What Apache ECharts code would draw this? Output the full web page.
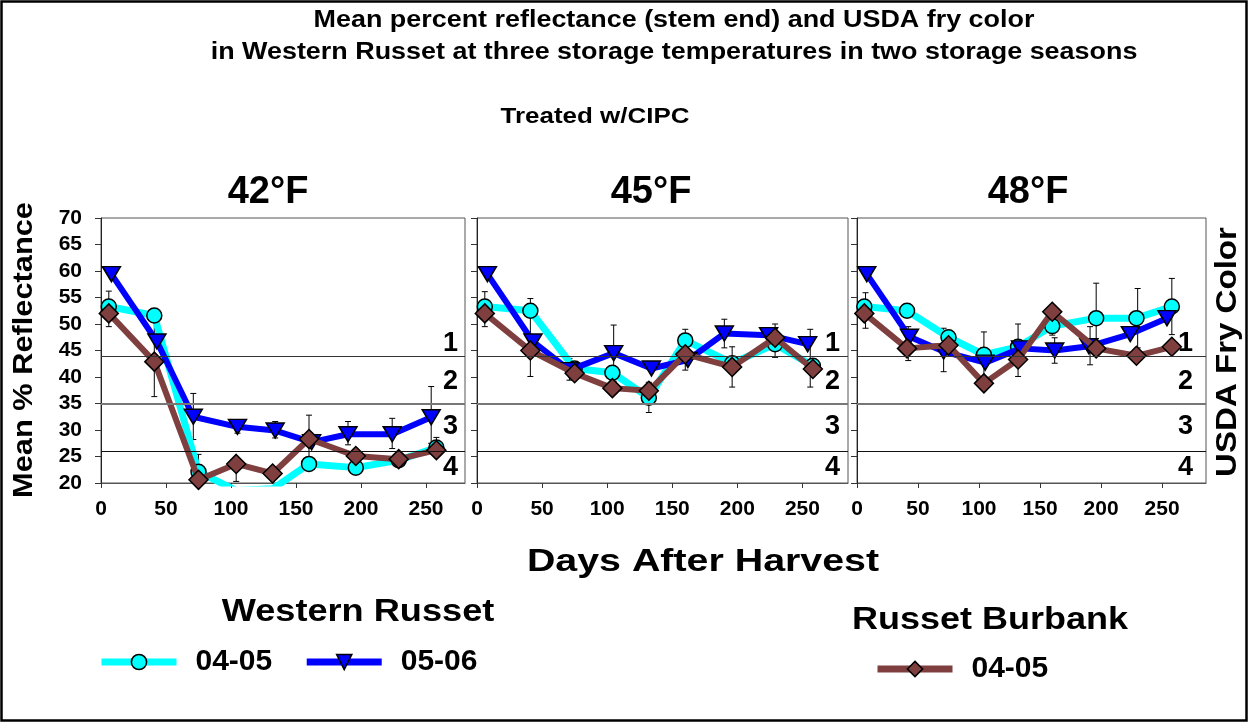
<!DOCTYPE html>
<html><head><meta charset="utf-8">
<script src="https://cdn.jsdelivr.net/npm/echarts@6/dist/echarts.min.js"></script>
<style>html,body{margin:0;padding:0;background:#fff}#c{width:1249px;height:723px}</style>
</head><body><div id="c"></div>
<script>
// ---- data ----
const panelTitles = ['42°F', '45°F', '48°F'];
const days0405 = [6, 41, 75, 104, 132, 160, 196, 229, 258];
const days0506 = [8, 43, 71, 105, 134, 162, 190, 224, 254];
const wr0405 = [
  [53.3, 51.6, 22.1, 18.6, 18.9, 23.6, 22.9, 24.3, 26.7],
  [53.3, 52.5, 41.6, 40.8, 36.1, 46.9, 42.6, 46.2, 42.1],
  [53.3, 52.5, 47.5, 44.2, 45.7, 49.6, 51.1, 51.1, 53.3]
];
const wr0506 = [
  [59.4, 46.7, 32.5, 30.6, 29.9, 27.7, 29.2, 29.2, 32.4],
  [59.4, 46.7, 41.3, 44.5, 41.6, 43.2, 48.2, 47.9, 46.2],
  [59.4, 47.6, 44.8, 42.7, 45.4, 45.0, 45.8, 48.1, 51.1]
];
const rb0405 = [
  [52.0, 42.9, 20.6, 23.6, 21.8, 28.3, 25.1, 24.5, 26.2],
  [52.0, 45.0, 40.7, 37.9, 37.4, 44.3, 41.9, 47.4, 41.5],
  [52.0, 45.4, 46.0, 38.8, 43.3, 52.3, 45.4, 44.0, 45.7]
];
// error bars: [day, low, high]
const errBars = [
  [[6, 49.5, 56.2], [41, 36.3, 51.2], [71, 28.2, 36.9], [75, 20, 25.4], [105, 29.4, 31.9], [104, 20.3, 23.6],
   [134, 28.5, 31.6], [160, 24.5, 32.8], [190, 27.2, 31.6], [224, 26.5, 32.2], [254, 27.5, 38.2], [258, 25, 28.6]],
  [[6, 49.5, 56.1], [41, 40.1, 54.8], [71, 39.4, 43.5], [105, 39.2, 49.8], [132, 33.3, 39], [160, 41.3, 49],
   [190, 45.5, 50.9], [196, 38.1, 45.7], [229, 43.7, 50], [256, 38.1, 49]],
  [[7, 49.2, 55.9], [42, 43.1, 49.5], [71, 41, 49.2], [104, 40, 48.5], [132, 40.1, 50], [160, 47.9, 51.3],
   [162, 42.6, 47.4], [191, 42.3, 49.5], [196, 44.5, 57.7], [230, 45.5, 56.7], [258, 48, 58.6]]
];
const fryBounds = [44, 35, 26];
const fryLabels = ['1', '2', '3', '4'];
const fryLabelValues = [46.3, 39.1, 30.6, 23.0];
const yMin = 20, yMax = 70, yStep = 5;
const xMaxes = [280, 285, 286];
const xStep = 50;
const seriesNames = ['WR 04-05', 'WR 05-06', 'RB 04-05'];
const legendText = {'WR 04-05': '04-05', 'WR 05-06': '05-06', 'RB 04-05': '04-05'};

// ---- layout / style ----
const FONT = '"Liberation Sans", Arial, sans-serif';
const grids = [
  {left: 101, top: 218, width: 364, height: 265},
  {left: 477, top: 218, width: 371, height: 265},
  {left: 857, top: 218, width: 349, height: 265}
];
const fryDist = [7, 8, 13];
const COL = {cyan: '#00FFFF', blue: '#0000FF', brown: '#7F3F3F'};

const zip = (xs, ys) => xs.map((x, i) => [x, ys[i]]);

const xAxis = [], yAxis = [], series = [];
grids.forEach((g, i) => {
  xAxis.push({
    type: 'value', gridIndex: i, min: 0, max: xMaxes[i], interval: xStep,
    axisLine: {lineStyle: {color: '#555', width: 1}},
    axisTick: {show: true, inside: false, length: 5, lineStyle: {color: '#333'}},
    axisLabel: {show: true, showMaxLabel: false, margin: 16, color: '#000', fontSize: 21, fontWeight: 'bold', fontFamily: FONT},
    splitLine: {show: false}
  });
  yAxis.push({
    type: 'value', gridIndex: i, min: yMin, max: yMax, interval: yStep,
    axisLine: {show: true, lineStyle: {color: '#222', width: 1}},
    axisTick: {show: true, inside: false, length: 6, lineStyle: {color: '#333'}},
    axisLabel: {show: i === 0, margin: 19, color: '#000', fontSize: 21, fontWeight: 'bold', fontFamily: FONT},
    splitLine: {show: false}
  });
  series.push({
    type: 'custom', xAxisIndex: i, yAxisIndex: i, clip: true, silent: true, z: 1,
    data: errBars[i],
    encode: {x: 0, y: [1, 2]},
    renderItem: (params, api) => {
      const x = api.value(0);
      const top = api.coord([x, api.value(2)]);
      const bot = api.coord([x, api.value(1)]);
      const w = 3;
      const st = {stroke: '#000', lineWidth: 1};
      return {type: 'group', children: [
        {type: 'line', shape: {x1: top[0], y1: top[1], x2: bot[0], y2: bot[1]}, style: st},
        {type: 'line', shape: {x1: top[0] - w, y1: top[1], x2: top[0] + w, y2: top[1]}, style: st},
        {type: 'line', shape: {x1: bot[0] - w, y1: bot[1], x2: bot[0] + w, y2: bot[1]}, style: st}
      ]};
    }
  });
  series.push({
    name: seriesNames[0], type: 'line', xAxisIndex: i, yAxisIndex: i, z: 2,
    data: zip(days0405, wr0405[i]),
    lineStyle: {color: COL.cyan, width: 7},
    symbol: 'circle', symbolSize: 15,
    itemStyle: {color: COL.cyan, borderColor: '#000', borderWidth: 1.5},
    markLine: {
      silent: true, symbol: ['none', 'none'], label: {show: false}, animation: false,
      data: [
        {yAxis: fryBounds[0], lineStyle: {color: '#333', width: 1.2, type: 'solid'}},
        {yAxis: fryBounds[1], lineStyle: {color: '#777', width: 2, type: 'solid'}},
        {yAxis: fryBounds[2], lineStyle: {color: '#111', width: 1.2, type: 'solid'}}
      ]
    }
  });
  series.push({
    name: seriesNames[1], type: 'line', xAxisIndex: i, yAxisIndex: i, z: 3,
    data: zip(days0506, wr0506[i]),
    lineStyle: {color: COL.blue, width: 6},
    symbol: 'triangle', symbolRotate: 180, symbolSize: [18, 15],
    itemStyle: {color: COL.blue, borderColor: '#000', borderWidth: 1.5}
  });
  series.push({
    name: seriesNames[2], type: 'line', xAxisIndex: i, yAxisIndex: i, z: 4,
    data: zip(days0405, rb0405[i]),
    lineStyle: {color: COL.brown, width: 6},
    symbol: 'diamond', symbolSize: 19,
    itemStyle: {color: COL.brown, borderColor: '#000', borderWidth: 1.5}
  });
  series.push({
    type: 'scatter', xAxisIndex: i, yAxisIndex: i, z: 5, silent: true,
    symbolSize: 0, itemStyle: {opacity: 1},
    data: fryLabelValues.map((v, k) => ({value: [xMaxes[i], v], name: fryLabels[k]})),
    label: {show: true, position: 'left', distance: fryDist[i], formatter: p => p.name,
      color: '#000', opacity: 1, fontSize: 27, fontWeight: 'bold', fontFamily: FONT}
  });
});

function txt(text, x, y, size, sx, rot) {
  return {type: 'text', x: x, y: y, scaleX: sx || 1, scaleY: 1, rotation: rot || 0, silent: true,
    style: {text: text, x: 0, y: 0, font: 'bold ' + size + 'px ' + FONT, fill: '#000',
      align: 'center', verticalAlign: 'middle', textAlign: 'center', textVerticalAlign: 'middle'}};
}

const legendCommon = {
  orient: 'horizontal', itemWidth: 75, itemHeight: 19, itemGap: 31, padding: 0,
  selectedMode: false,
  formatter: n => legendText[n],
  textStyle: {fontSize: 30, fontWeight: 'bold', fontFamily: FONT, color: '#000', padding: [0, 0, 0, 14]},
  lineStyle: {width: 7},
  itemStyle: {borderWidth: 1.5, borderColor: '#000'}
};

const option = {
  backgroundColor: '#fff',
  animation: false,
  grid: grids.map(g => Object.assign({show: true, borderColor: '#555', borderWidth: 1, backgroundColor: 'transparent', containLabel: false}, g)),
  xAxis: xAxis,
  yAxis: yAxis,
  legend: [
    Object.assign({data: [seriesNames[0], seriesNames[1]], left: 98, top: 647}, legendCommon),
    Object.assign({data: [seriesNames[2]], left: 874, top: 654}, legendCommon)
  ],
  series: series,
  graphic: [
    {type: 'rect', silent: true, shape: {x: 1.5, y: 1.5, width: 1245, height: 719}, style: {fill: 'none', stroke: '#000', lineWidth: 2.5}},
    txt('Mean percent reflectance (stem end) and USDA fry color', 674, 21, 23, 1.17),
    txt('in Western Russet at three storage temperatures in two storage seasons', 674, 53, 23, 1.17),
    txt('Treated w/CIPC', 595, 117, 22, 1.18),
    txt(panelTitles[0], 268, 193, 38, 1.0),
    txt(panelTitles[1], 651, 193, 38, 1.0),
    txt(panelTitles[2], 1028, 193, 38, 1.0),
    txt('Days After Harvest', 703, 562, 32, 1.23),
    txt('Mean % Reflectance', 25, 350, 27, 1.14, Math.PI / 2),
    txt('USDA Fry Color', 1228, 352, 29, 1.14, Math.PI / 2),
    txt('Western Russet', 358, 612, 32, 1.13),
    txt('Russet Burbank', 990, 620, 32, 1.125)
  ]
};
const chart = echarts.init(document.getElementById('c'), null, {renderer: 'canvas'});
chart.setOption(option);
</script></body></html>
